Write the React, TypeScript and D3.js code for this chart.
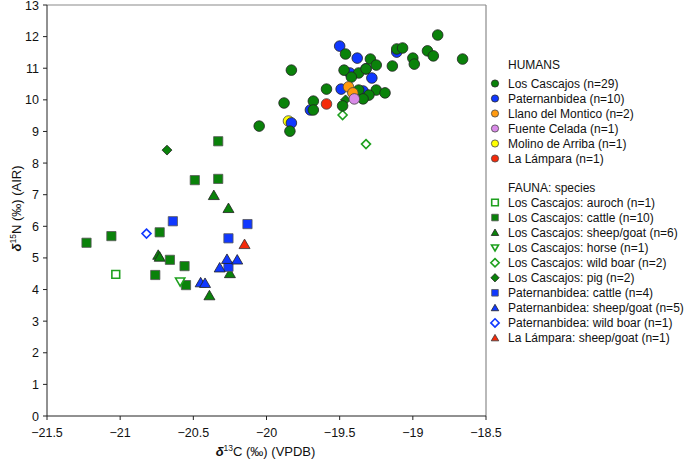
import React from "react";
import * as d3 from "d3";

// ---------- DATA ----------
type P = [number, number];
const humansLosCascajos: P[] = [
  [-18.83, 12.05], [-19.46, 11.45], [-19.29, 11.29], [-19.25, 11.1], [-19.11, 11.61],
  [-19.07, 11.64], [-19.0, 11.32], [-18.99, 11.13], [-18.9, 11.55], [-18.86, 11.39],
  [-18.66, 11.29], [-19.14, 11.07], [-19.83, 10.94], [-19.47, 10.94], [-19.37, 10.85],
  [-19.32, 10.98], [-19.42, 10.72], [-19.59, 10.34], [-19.37, 10.31], [-19.25, 10.31],
  [-19.19, 10.22], [-19.3, 10.15], [-19.34, 10.03], [-19.48, 9.81], [-19.68, 9.96],
  [-19.68, 9.68], [-19.88, 9.9], [-19.84, 9.01], [-20.05, 9.17],
];
const humansPaternanbidea: P[] = [
  [-19.5, 11.7], [-19.38, 11.32], [-19.11, 11.51], [-19.43, 10.85], [-19.28, 10.69],
  [-19.49, 10.34], [-19.34, 10.28], [-19.7, 9.68], [-19.83, 9.27], [-19.32, 10.98],
];
const humansLlano: P[] = [[-19.44, 10.41], [-19.41, 10.22]];
const humansFuente: P[] = [[-19.4, 10.03]];
const humansMolino: P[] = [[-19.85, 9.33]];
const humansLampara: P[] = [[-19.59, 9.87]];

const lcAuroch: P[] = [[-21.03, 4.48]];
const lcCattle: P[] = [
  [-20.33, 8.69], [-20.49, 7.46], [-20.33, 7.5], [-21.06, 5.69], [-21.23, 5.48],
  [-20.73, 5.81], [-20.66, 4.94], [-20.56, 4.74], [-20.76, 4.46], [-20.55, 4.14],
];
const lcSheep: P[] = [
  [-20.36, 6.98], [-20.26, 6.57], [-20.74, 5.09], [-20.73, 5.03], [-20.25, 4.51], [-20.39, 3.81],
];
const lcHorse: P[] = [[-20.59, 4.25]];
const lcWildBoar: P[] = [[-19.48, 9.52], [-19.32, 8.6]];
const lcPig: P[] = [[-20.68, 8.41], [-19.46, 10.0]];
const patCattle: P[] = [[-20.64, 6.16], [-20.13, 6.07], [-20.26, 5.62], [-20.26, 4.72]];
const patSheep: P[] = [[-20.27, 4.96], [-20.2, 4.94], [-20.32, 4.69], [-20.45, 4.22], [-20.42, 4.2]];
const patWildBoar: P[] = [[-20.82, 5.77]];
const lampSheep: P[] = [[-20.15, 5.43]];

const xTicks = [-21.5, -21, -20.5, -20, -19.5, -19, -18.5];
const yTicks = [0, 1, 2, 3, 4, 5, 6, 7, 8, 9, 10, 11, 12, 13];

const humanLegend = [
  "Los Cascajos (n=29)",
  "Paternanbidea (n=10)",
  "Llano del Montico (n=2)",
  "Fuente Celada (n=1)",
  "Molino de Arriba (n=1)",
  "La Lámpara (n=1)",
];
const faunaLegend = [
  "Los Cascajos: auroch (n=1)",
  "Los Cascajos: cattle (n=10)",
  "Los Cascajos: sheep/goat (n=6)",
  "Los Cascajos: horse (n=1)",
  "Los Cascajos: wild boar (n=2)",
  "Los Cascajos: pig (n=2)",
  "Paternanbidea: cattle (n=4)",
  "Paternanbidea: sheep/goat (n=5)",
  "Paternanbidea: wild boar (n=1)",
  "La Lámpara: sheep/goat (n=1)",
];

// ---------- STYLE ----------
const GREEN = "#0a820a";
const BLUE = "#1038ff";
const ORANGE = "#ff9a10";
const VIOLET = "#d98be8";
const YELLOW = "#ffff00";
const RED = "#f42a0a";
const OPEN_GREEN = "#1ea01e";
const FONT = "'Liberation Sans', Arial, Helvetica, sans-serif";

type Shape = "circle" | "square" | "tri" | "tridown" | "diamond";
interface Series {
  data: P[];
  shape: Shape;
  fill: string;
  stroke: string;
  open?: boolean;
}

function markerPath(shape: Shape, s: number): string {
  switch (shape) {
    case "square":
      return `M${-s},${-s}H${s}V${s}H${-s}Z`;
    case "tri":
      return `M0,${-s * 1.05}L${s * 1.1},${s * 0.85}L${-s * 1.1},${s * 0.85}Z`;
    case "tridown":
      return `M0,${s * 1.05}L${s * 1.1},${-s * 0.85}L${-s * 1.1},${-s * 0.85}Z`;
    case "diamond":
      return `M0,${-s * 1.15}L${s * 1.15},0L0,${s * 1.15}L${-s * 1.15},0Z`;
    default:
      return "";
  }
}

function Marker({ shape, x, y, fill, stroke, open, size }: any) {
  const sw = open ? 1.6 : 0.8;
  if (shape === "circle") {
    return <circle cx={x} cy={y} r={size} fill={open ? "white" : fill} stroke={stroke} strokeWidth={sw} />;
  }
  return (
    <path
      d={markerPath(shape, size)}
      transform={`translate(${x},${y})`}
      fill={open ? "white" : fill}
      stroke={stroke}
      strokeWidth={sw}
    />
  );
}

export default function App() {
  const W = 685, H = 461;
  const left = 47, right = 486, top = 5, bottom = 416;
  const x = d3.scaleLinear().domain([-21.5, -18.5]).range([left, right]);
  const y = d3.scaleLinear().domain([0, 13]).range([bottom, top]);

  const fauna: Series[] = [
    { data: lcAuroch, shape: "square", fill: OPEN_GREEN, stroke: OPEN_GREEN, open: true },
    { data: lcCattle, shape: "square", fill: GREEN, stroke: "#555" },
    { data: lcSheep, shape: "tri", fill: GREEN, stroke: "#222" },
    { data: lcHorse, shape: "tridown", fill: OPEN_GREEN, stroke: OPEN_GREEN, open: true },
    { data: lcWildBoar, shape: "diamond", fill: OPEN_GREEN, stroke: OPEN_GREEN, open: true },
    { data: lcPig, shape: "diamond", fill: GREEN, stroke: "#222" },
    { data: patCattle, shape: "square", fill: BLUE, stroke: "#555" },
    { data: patSheep, shape: "tri", fill: BLUE, stroke: "#222" },
    { data: patWildBoar, shape: "diamond", fill: BLUE, stroke: BLUE, open: true },
    { data: lampSheep, shape: "tri", fill: RED, stroke: "#333" },
  ];
  const humans: Series[] = [
    { data: humansLosCascajos, shape: "circle", fill: GREEN, stroke: "#222" },
    { data: humansPaternanbidea, shape: "circle", fill: BLUE, stroke: "#222" },
    { data: humansLlano, shape: "circle", fill: ORANGE, stroke: "#444" },
    { data: humansFuente, shape: "circle", fill: VIOLET, stroke: "#444" },
    { data: humansMolino, shape: "circle", fill: YELLOW, stroke: "#444" },
    { data: humansLampara, shape: "circle", fill: RED, stroke: "#444" },
  ];
  const drawOrder: Series[] = [
    ...fauna,
    humans[4],
    humans[1],
    humans[0],
    humans[2],
    humans[3],
    humans[5],
  ];
  const plotSize: Record<Shape, number> = { circle: 5.3, square: 4.6, tri: 5, tridown: 4.4, diamond: 4.3 };
  const openSize: Record<Shape, number> = { circle: 5, square: 3.9, tri: 4.6, tridown: 4.2, diamond: 3.9 };
  const legSize: Record<Shape, number> = { circle: 3.6, square: 3.3, tri: 3.4, tridown: 3.2, diamond: 3.6 };

  const legX = 495;
  const legTextX = 508;
  const humanRowsY = humanLegend.map((_, i) => 83.5 + i * 15);
  const faunaRowsY = faunaLegend.map((_, i) => 202.5 + i * 15.05);

  return (
    <div style={{ position: "absolute", left: 0, top: 0, width: W, height: H, background: "white" }}>
      <svg width={W} height={H} style={{ display: "block", fontFamily: FONT }}>
        <rect width={W} height={H} fill="white" />
        {/* frame */}
        <line x1={left} x2={right} y1={top} y2={top} stroke="#8a8a8a" strokeWidth={1.2} />
        <line x1={right} x2={right} y1={top} y2={bottom} stroke="#8a8a8a" strokeWidth={1.2} />
        <line x1={left} x2={left} y1={top} y2={bottom} stroke="#222" strokeWidth={1} />
        <line x1={left} x2={right} y1={bottom} y2={bottom} stroke="#222" strokeWidth={1} />
        {/* y ticks */}
        {yTicks.map((t) => (
          <g key={"y" + t}>
            <line x1={left - 4} x2={left} y1={y(t)} y2={y(t)} stroke="#222" strokeWidth={1} />
            <text x={left - 8} y={y(t) + 4.5} textAnchor="end" fontSize={12.5} fill="#111">
              {t}
            </text>
          </g>
        ))}
        {/* x ticks */}
        {xTicks.map((t) => (
          <g key={"x" + t}>
            <line x1={x(t)} x2={x(t)} y1={bottom} y2={bottom + 4} stroke="#222" strokeWidth={1} />
            <text x={x(t)} y={bottom + 21} textAnchor="middle" fontSize={12.5} fill="#111">
              {d3.format("")(t)}
            </text>
          </g>
        ))}
        {/* axis titles */}
        <text x={(left + right) / 2 - 1} y={456} textAnchor="middle" fontSize={13} fill="#111">
          <tspan fontWeight="bold" fontStyle="italic">δ</tspan>
          <tspan fontSize={8.5} dy={-5}>13</tspan>
          <tspan dy={5}>C (‰) (VPDB)</tspan>
        </text>
        <text
          transform={`translate(21,${(top + bottom) / 2 - 2}) rotate(-90)`}
          textAnchor="middle"
          fontSize={13}
          fill="#111"
        >
          <tspan fontWeight="bold" fontStyle="italic">δ</tspan>
          <tspan fontSize={8.5} dy={-5}>15</tspan>
          <tspan dy={5}>N (‰) (AIR)</tspan>
        </text>
        {/* points */}
        {drawOrder.map((s, si) =>
          s.data.map((d, i) => (
            <Marker
              key={si + "-" + i}
              shape={s.shape}
              x={x(d[0])}
              y={y(d[1])}
              fill={s.fill}
              stroke={s.stroke}
              open={s.open}
              size={s.open ? openSize[s.shape] : plotSize[s.shape]}
            />
          ))
        )}
        {/* legend */}
        <text x={legTextX} y={69} fontSize={12} fill="#111">HUMANS</text>
        {humans.map((s, i) => (
          <g key={"hl" + i}>
            <Marker shape="circle" x={legX} y={humanRowsY[i]} fill={s.fill} stroke={s.stroke} size={legSize.circle} />
            <text x={legTextX} y={humanRowsY[i] + 4.3} fontSize={12} fill="#111">
              {humanLegend[i]}
            </text>
          </g>
        ))}
        <text x={legTextX} y={192} fontSize={12} fill="#111">FAUNA: species</text>
        {fauna.map((s, i) => (
          <g key={"fl" + i}>
            <Marker
              shape={s.shape}
              x={legX}
              y={faunaRowsY[i]}
              fill={s.fill}
              stroke={s.stroke}
              open={s.open}
              size={legSize[s.shape]}
            />
            <text x={legTextX} y={faunaRowsY[i] + 4.3} fontSize={12} fill="#111">
              {faunaLegend[i]}
            </text>
          </g>
        ))}
      </svg>
    </div>
  );
}
